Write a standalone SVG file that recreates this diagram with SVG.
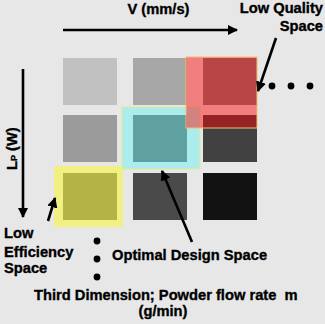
<svg xmlns="http://www.w3.org/2000/svg" width="325" height="324" viewBox="0 0 325 324">
<defs>
<style>
text{font-family:"Liberation Sans",Arial,sans-serif;font-weight:bold;font-size:14.7px;fill:#000;stroke:#000;stroke-width:0.35}
.ln{stroke:#000;stroke-width:2.6;fill:none}
.sq{stroke:none}
</style>
<marker id="ah" viewBox="0 0 10 10" refX="9" refY="5" markerWidth="4" markerHeight="4" markerUnits="strokeWidth" orient="auto">
<path d="M0,0 L10,5 L0,10 z" fill="#000"/>
</marker>
</defs>
<rect width="325" height="324" fill="#e7e7e7"/>
<g id="grid">
<rect class="sq" x="63" y="58" width="54" height="47" fill="#c1c1c1"/>
<rect class="sq" x="133" y="58" width="54" height="47" fill="#a7a7a7"/>
<rect class="sq" x="203" y="58" width="54" height="47" fill="#808080"/>
<rect class="sq" x="63" y="115" width="54" height="47" fill="#9b9b9b"/>
<rect class="sq" x="133" y="115" width="54" height="47" fill="#808080"/>
<rect class="sq" x="203" y="115" width="54" height="47" fill="#414141"/>
<rect class="sq" x="63" y="173" width="54" height="47" fill="#7b7b7b"/>
<rect class="sq" x="133" y="173" width="54" height="47" fill="#4a4a4a"/>
<rect class="sq" x="203" y="173" width="54" height="47" fill="#121212"/>
</g>
<g id="low-efficiency-region">
<rect x="54" y="166" width="69" height="61" fill="#ffff00" fill-opacity="0.43"/>
</g>
<g id="optimal-region">
<rect x="122" y="107" width="78" height="62" fill="#00ffff" fill-opacity="0.26" stroke="#e6e890" stroke-width="1"/>
</g>
<g id="low-quality-region">
<rect x="186" y="57" width="71" height="71" fill="#ff0000" fill-opacity="0.45" stroke="#f3c070" stroke-width="1"/>
</g>
<g id="connectors">
<line class="ln" x1="63" y1="30" x2="237" y2="30" marker-end="url(#ah)"/>
<line class="ln" x1="23" y1="69" x2="23" y2="217" marker-end="url(#ah)"/>
<line class="ln" x1="276" y1="38" x2="258" y2="91" marker-end="url(#ah)"/>
<line class="ln" x1="48" y1="221" x2="55" y2="198" marker-end="url(#ah)"/>
<line class="ln" x1="192" y1="242" x2="162" y2="171" marker-end="url(#ah)"/>
</g>
<g id="dots">
<circle cx="272" cy="86" r="3.4"/>
<circle cx="291" cy="86" r="3.4"/>
<circle cx="310" cy="86" r="3.4"/>
<circle cx="97" cy="241" r="3.4"/>
<circle cx="97" cy="259" r="3.4"/>
<circle cx="97" cy="277" r="3.4"/>
</g>
<g id="labels">
<text x="158.5" y="14" text-anchor="middle">V (mm/s)</text>
<text x="323" y="13" text-anchor="end">Low Quality</text>
<text x="323" y="31" text-anchor="end">Space</text>
<text transform="translate(16.5,170) rotate(-90)">L<tspan font-size="9">P</tspan> (W)</text>
<text x="4" y="238">Low</text>
<text x="4" y="256.5">Efficiency</text>
<text x="4" y="273">Space</text>
<text x="112" y="260">Optimal Design Space</text>
<text x="34" y="299.5" xml:space="preserve">Third Dimension; Powder flow rate  m</text>
<text x="163" y="315.5" text-anchor="middle">(g/min)</text>
</g>
</svg>
